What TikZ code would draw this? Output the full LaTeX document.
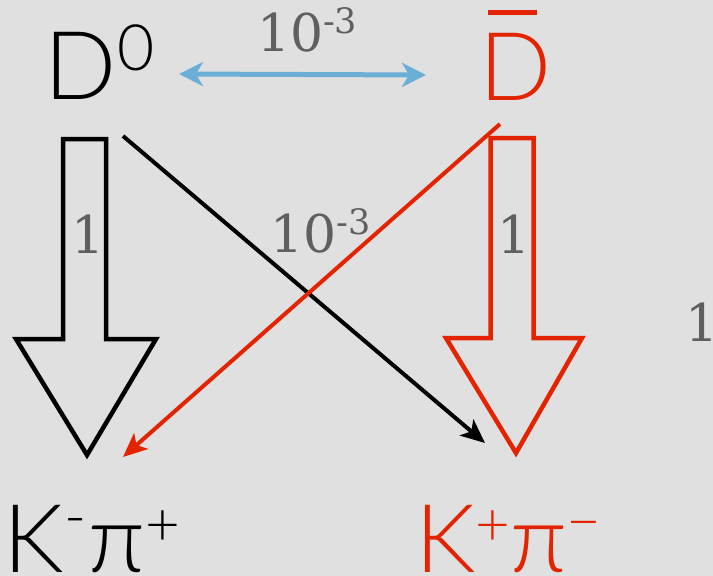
\documentclass[tikz,border=0pt]{standalone}
\usepackage{fontspec}
\setmainfont{Lato Light}
\newfontfamily\labelfont{DejaVu Serif}
\usetikzlibrary{arrows.meta}
\definecolor{bg}{RGB}{223,224,223}
\definecolor{kred}{RGB}{228,36,0}
\definecolor{lblgray}{RGB}{95,95,95}
\definecolor{mixblue}{RGB}{107,174,214}
\tikzset{
  big/.style={inner sep=0pt, outer sep=0pt, anchor=base west, font=\fontsize{95}{95}\selectfont},
  lbl/.style={inner sep=0pt, outer sep=0pt, text=lblgray, font=\labelfont\fontsize{52}{52}\selectfont},
  hollow/.style={line width=4.5pt, line join=miter, miter limit=20},
  decay/.style={line width=4pt, -{Stealth[length=24pt,width=21pt,inset=6pt]}},
  mixing/.style={line width=5pt, mixblue, {Stealth[length=24pt,width=24pt,inset=7pt]}-{Stealth[length=24pt,width=24pt,inset=7pt]}}
}
\newcommand{\supsm}[2]{\raisebox{#1}{\fontsize{60}{60}\selectfont #2}}
\begin{document}
\begin{tikzpicture}[x=1pt,y=-1pt]
\fill[bg] (0,0) rectangle (713,576);
\useasboundingbox (0,0) rectangle (713,576);

% particles
\node[big] (D0) at (45,99) {D\raisebox{29pt}{\fontsize{64}{64}\selectfont 0}};
\node[big, text=kred] (Dbar) at (479,100) {D};
\fill[kred] (488,10) rectangle (537,15);
\node[big] (Kpi) at (4,572) {K\supsm{35pt}{-}\kern2pt π\supsm{27pt}{+}};
\node[big, text=kred] (Kpibar) at (415,572) {K\supsm{27pt}{+}π\supsm{30pt}{−}};

% mixing arrow
\coordinate (mixL) at (179,74);
\coordinate (mixR) at (426,75);
\draw[mixing] (mixL) -- (mixR);
\node[lbl, anchor=base west] (mixlbl) at (257,51) {10\raisebox{18pt}{\fontsize{35}{35}\selectfont -3}};

% hollow arrows (favoured decays)
\draw[hollow, black] (63,139) -- (106,139) -- (106,339) -- (156,339) -- (87,455) -- (16,339) -- (63,339) -- cycle;
\draw[hollow, kred] (490.5,138) -- (533.5,138) -- (533.5,338) -- (582,338) -- (516,453) -- (446,338) -- (490.5,338) -- cycle;
\node[lbl, anchor=base] (one1) at (88,253) {1};
\node[lbl, anchor=base] (one2) at (514,253) {1};
\node[lbl, anchor=base] (one3) at (702,341) {1};

% suppressed decays
\coordinate (bS) at (123,136);
\coordinate (bE) at (485,443);
\coordinate (rS) at (500,124);
\coordinate (rE) at (123,457);
\draw[decay, black] (bS) -- (bE);
\draw[decay, kred] (rS) -- (rE);
\node[lbl, anchor=base west] (dcslbl) at (270,252) {10\raisebox{18pt}{\fontsize{35}{35}\selectfont -3}};
\end{tikzpicture}
\end{document}
